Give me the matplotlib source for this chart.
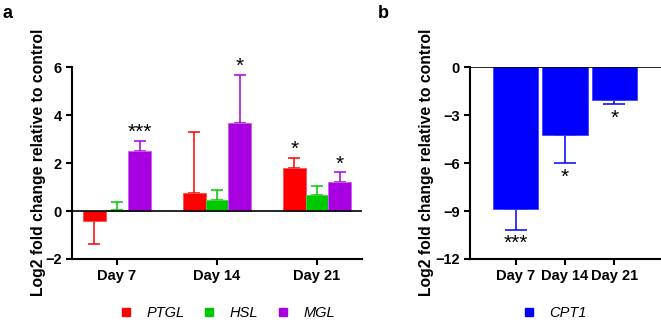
import matplotlib.pyplot as plt
from matplotlib.lines import Line2D

plt.rcParams['font.family'] = 'Liberation Sans'

days = ['Day 7', 'Day 14', 'Day 21']

# panel a: lipolysis genes (mean, upper error end)
ptgl = [-0.42, 0.74, 1.80]
ptgl_err = [0.96, 2.54, 0.43]
hsl = [0.05, 0.46, 0.67]
hsl_err = [0.33, 0.41, 0.39]
mgl = [2.52, 3.66, 1.22]
mgl_err = [0.41, 2.03, 0.40]
stars_a = {'PTGL': ['', '', '*'], 'HSL': ['', '', ''], 'MGL': ['***', '*', '*']}

# panel b: CPT1
cpt1 = [-8.87, -4.23, -2.04]
cpt1_err = [1.32, 1.79, 0.29]
stars_b = ['***', '*', '*']

colors = {'PTGL': '#FF0000', 'HSL': '#00C800', 'MGL': '#A800E0'}
edges = {'PTGL': '#FF5050', 'HSL': '#40D840', 'MGL': '#C860F0'}
blue = '#0000FF'

fig = plt.figure(figsize=(6.61, 3.22), dpi=100)
ax1 = fig.add_axes([0.109, 0.1957, 0.4387, 0.596])
ax2 = fig.add_axes([0.711, 0.1957, 0.289, 0.596])

def style(ax):
    for s in ['top', 'right']:
        ax.spines[s].set_visible(False)
    for s in ['left', 'bottom']:
        ax.spines[s].set_linewidth(1.5)
    ax.tick_params(width=1.5, length=4, labelsize=10.5)
    for lbl in ax.get_xticklabels() + ax.get_yticklabels():
        lbl.set_fontweight('bold')
    ax.set_ylabel('Log2 fold change relative to control', fontsize=11.3, fontweight='bold')

# ---- panel a
w = 0.227
offs = [-0.228, 0.0, 0.228]
series = [('PTGL', ptgl, ptgl_err), ('HSL', hsl, hsl_err), ('MGL', mgl, mgl_err)]
for (name, vals, errs), off in zip(series, offs):
    xs = [i + off for i in range(3)]
    ax1.bar(xs, vals, w, color=colors[name], edgecolor=edges[name], linewidth=0.6, zorder=2)
    for x, v, e, st in zip(xs, vals, errs, stars_a[name]):
        sgn = 1 if v >= 0 else -1
        ax1.errorbar(x, v, yerr=[[0], [e]] if sgn > 0 else [[e], [0]], fmt='none',
                     ecolor=colors[name], elinewidth=1.1, capsize=4, capthick=1.1, zorder=1)
        if st:
            ax1.text(x, v + e - 0.05, st, ha='center', va='bottom', fontsize=15)
ax1.axhline(0, color='black', lw=1.2, zorder=3)
ax1.set_xlim(-0.45, 2.45)
ax1.set_ylim(-2, 6)
ax1.set_yticks([-2, 0, 2, 4, 6])
ax1.set_xticks(range(3))
ax1.set_xticklabels(days)
style(ax1)
ax1.yaxis.set_label_coords(-0.09, 0.505)

# ---- panel b
ax2.bar(range(3), cpt1, 0.91, color=blue, edgecolor='#4040FF', linewidth=0.6, zorder=2)
for i, (v, e, st) in enumerate(zip(cpt1, cpt1_err, stars_b)):
    ax2.errorbar(i, v, yerr=[[e], [0]], fmt='none', ecolor=blue, elinewidth=1.1,
                 capsize=8, capthick=1.1, zorder=1)
    ax2.text(i, v - e - 0.25, st, ha='center', va='top', fontsize=15)
ax2.axhline(0, color='black', lw=1.2, zorder=3)
ax2.set_xlim(-0.92, 2.94)
ax2.set_ylim(-12, 0)
ax2.set_yticks([-12, -9, -6, -3, 0])
ax2.set_xticks(range(3))
ax2.set_xticklabels(days)
style(ax2)
ax2.yaxis.set_label_coords(-0.19, 0.505)

# legends
h_a = [Line2D([], [], ls='none', marker='s', markersize=5.5, color=colors[n]) for n in ['PTGL', 'HSL', 'MGL']]
fig.legend(h_a, ['PTGL', 'HSL', 'MGL'], ncol=3, frameon=False, loc='center',
           bbox_to_anchor=(0.343, 0.028), prop={'style': 'italic', 'size': 10.5},
           handlelength=1.0, handletextpad=0.9, columnspacing=1.2)
h_b = [Line2D([], [], ls='none', marker='s', markersize=5.5, color=blue)]
fig.legend(h_b, ['CPT1'], frameon=False, loc='center', bbox_to_anchor=(0.838, 0.028),
           prop={'style': 'italic', 'size': 10.5}, handlelength=1.0, handletextpad=0.9)

fig.text(0.004, 0.985, 'a', fontsize=13, fontweight='bold', va='top')
fig.text(0.572, 0.985, 'b', fontsize=13, fontweight='bold', va='top')

fig.savefig('out.png', dpi=100)
